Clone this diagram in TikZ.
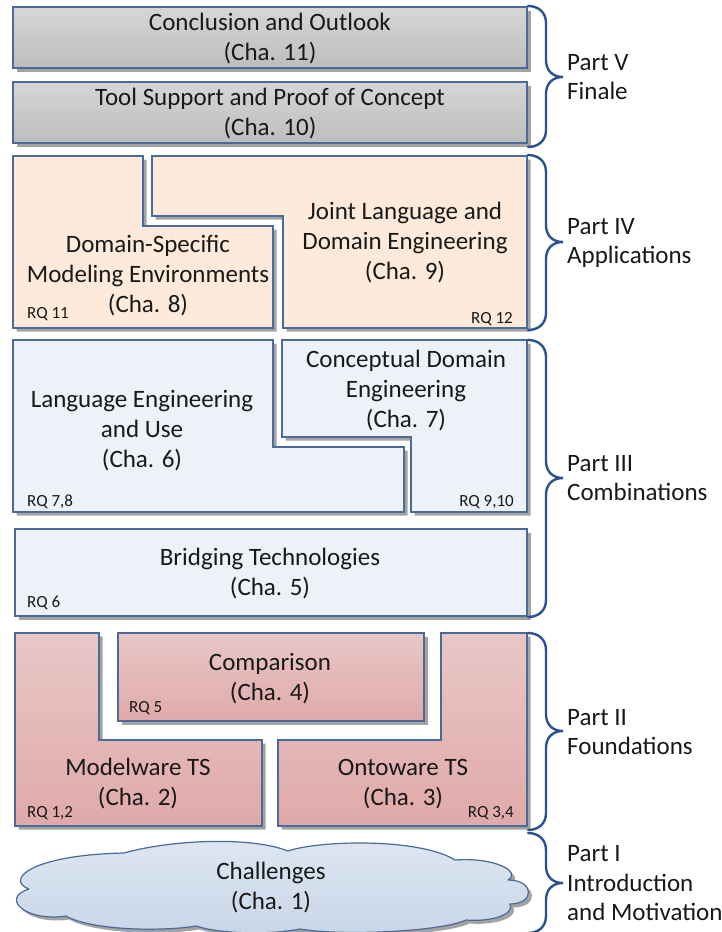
\documentclass[tikz,border=0pt]{standalone}
\usepackage{fontspec}
\setmainfont{Carlito}
\usetikzlibrary{shadows}

\definecolor{edgeblue}{HTML}{4A6A9A}
\definecolor{bracecol}{HTML}{2B5190}
\definecolor{shadowgray}{HTML}{A3A3A3}
\definecolor{greytop}{HTML}{D6D6D6}
\definecolor{greybot}{HTML}{BDBDBD}
\definecolor{peach}{HTML}{FDEADB}
\definecolor{paleblue}{HTML}{EDF1F8}
\definecolor{rosetop}{HTML}{E9C7C7}
\definecolor{rosebot}{HTML}{E0A9A9}
\definecolor{cloudtop}{HTML}{DEE7F2}
\definecolor{cloudbot}{HTML}{C8D6E8}

\tikzset{
  chapterbox/.style={draw=edgeblue, line width=1.2pt, line join=miter,
    general shadow={fill=shadowgray, shadow xshift=3.5pt, shadow yshift=-3.5pt}},
  finalebox/.style={chapterbox, top color=greytop, bottom color=greybot},
  appbox/.style={chapterbox, fill=peach},
  combobox/.style={chapterbox, fill=paleblue},
  foundbox/.style={chapterbox, top color=rosetop, bottom color=rosebot},
  cloudbox/.style={chapterbox, line join=round, top color=cloudtop, bottom color=cloudbot},
  title/.style={font=\fontsize{25}{30}\selectfont, align=center, inner sep=0pt, text=black!90},
  rq/.style={font=\fontsize{17}{20}\selectfont, inner sep=0pt, text=black!90},
  partlabel/.style={font=\fontsize{25}{29.5}\selectfont, align=left, anchor=west,
    inner sep=0pt, text=black!90},
  partbrace/.style={draw=bracecol, line width=2.4pt, line cap=round},
}

% curly brace on the right of a part: top y, bottom y, tip y
\newcommand\partbrace[3]{%
  \draw[partbrace] (528,#1) .. controls (538,#1) and (546,#1+6) .. (546,#1+17)
    -- (546,#3-17) .. controls (546,#3-7) and (552,#3) .. (563,#3)
    .. controls (552,#3) and (546,#3+7) .. (546,#3+17)
    -- (546,#2-17) .. controls (546,#2-6) and (538,#2) .. (528,#2);}

\begin{document}
\begin{tikzpicture}[x=1pt,y=-1pt]
\fill[white] (0,0) rectangle (722,932);
\useasboundingbox (0,0) rectangle (722,932);

% ---- Part V: Finale
\path[finalebox] (13,7) rectangle (527,68);
\node[title] (ch11) at (270,38.5) {Conclusion and Outlook\\(Cha. 11)};
\path[finalebox] (13,82) rectangle (527,143);
\node[title] (ch10) at (270,114) {Tool Support and Proof of Concept\\(Cha. 10)};

% ---- Part IV: Applications
\path[appbox] (13,156) -- (143,156) -- (143,226) -- (273,226) -- (273,328) -- (13,328) -- cycle;
\node[title] (ch8) at (148,276) {Domain-Specific\\Modeling Environments\\(Cha. 8)};
\node[rq, anchor=base west] (rq11) at (27,318) {RQ 11};
\path[appbox] (152,156) -- (527,156) -- (527,328) -- (283,328) -- (283,216) -- (152,216) -- cycle;
\node[title] (ch9) at (405,243) {Joint Language and\\Domain Engineering\\(Cha. 9)};
\node[rq, anchor=base east] (rq12) at (513,323) {RQ 12};

% ---- Part III: Combinations
\path[combobox] (13,340) -- (273,340) -- (273,447) -- (404,447) -- (404,512) -- (13,512) -- cycle;
\node[title] (ch6) at (142,430.5) {Language Engineering\\and Use\\(Cha. 6)};
\node[rq, anchor=base west] (rq78) at (27,506) {RQ 7,8};
\path[combobox] (282,340) -- (527,340) -- (527,512) -- (411,512) -- (411,437) -- (282,437) -- cycle;
\node[title] (ch7) at (406,391) {Conceptual Domain\\Engineering\\(Cha. 7)};
\node[rq, anchor=base east] (rq910) at (514,506) {RQ 9,10};
\path[combobox] (15,529) rectangle (527,616);
\node[title] (ch5) at (270,574) {Bridging Technologies\\(Cha. 5)};
\node[rq, anchor=base west] (rq6) at (27,607) {RQ 6};

% ---- Part II: Foundations
\path[foundbox] (15,633) -- (99,633) -- (99,740) -- (262,740) -- (262,826) -- (15,826) -- cycle;
\node[title] (ch2) at (138,784) {Modelware TS\\(Cha. 2)};
\node[rq, anchor=base west] (rq12b) at (27,817) {RQ 1,2};
\path[foundbox] (118,633) rectangle (424,721);
\node[title] (ch4) at (270,679) {Comparison\\(Cha. 4)};
\node[rq, anchor=base west] (rq5) at (129,712) {RQ 5};
\path[foundbox] (441,633) -- (527,633) -- (527,826) -- (278,826) -- (278,740) -- (441,740) -- cycle;
\node[title] (ch3) at (403,784) {Ontoware TS\\(Cha. 3)};
\node[rq, anchor=base east] (rq34) at (514,817) {RQ 3,4};

% ---- Part I: Introduction and Motivation (cloud made of ten puffs)
\path[cloudbox] (29,889)
  .. controls (5,880) and (30,855) .. (124,853)
  .. controls (170,840) and (250,836) .. (288,851)
  .. controls (320,840) and (420,838) .. (455,860)
  .. controls (495,857) and (522,872) .. (508,880)
  .. controls (535,880) and (535,904) .. (510,904)
  .. controls (515,915) and (490,922) .. (466,920)
  .. controls (440,932) and (340,936) .. (300,929)
  .. controls (270,935) and (220,934) .. (196,926)
  .. controls (160,932) and (90,930) .. (66,916)
  .. controls (25,922) and (0,898) .. (29,889) -- cycle;
\node[title] (ch1) at (271,888) {Challenges\\(Cha. 1)};

% ---- part braces and labels
\partbrace{6}{147}{77}
\node[partlabel] (p5) at (567,77) {Part V\\Finale};
\partbrace{155}{330}{242}
\node[partlabel] (p4) at (567,243) {Part IV\\Applications};
\partbrace{340}{617}{478}
\node[partlabel] (p3) at (567,478) {Part III\\Combinations};
\partbrace{633}{830}{731}
\node[partlabel] (p2) at (567,732) {Part II\\Foundations};
\partbrace{833}{933}{883}
\node[partlabel] (p1) at (567,883.5) {Part I\\Introduction\\and Motivation};
\end{tikzpicture}
\end{document}
